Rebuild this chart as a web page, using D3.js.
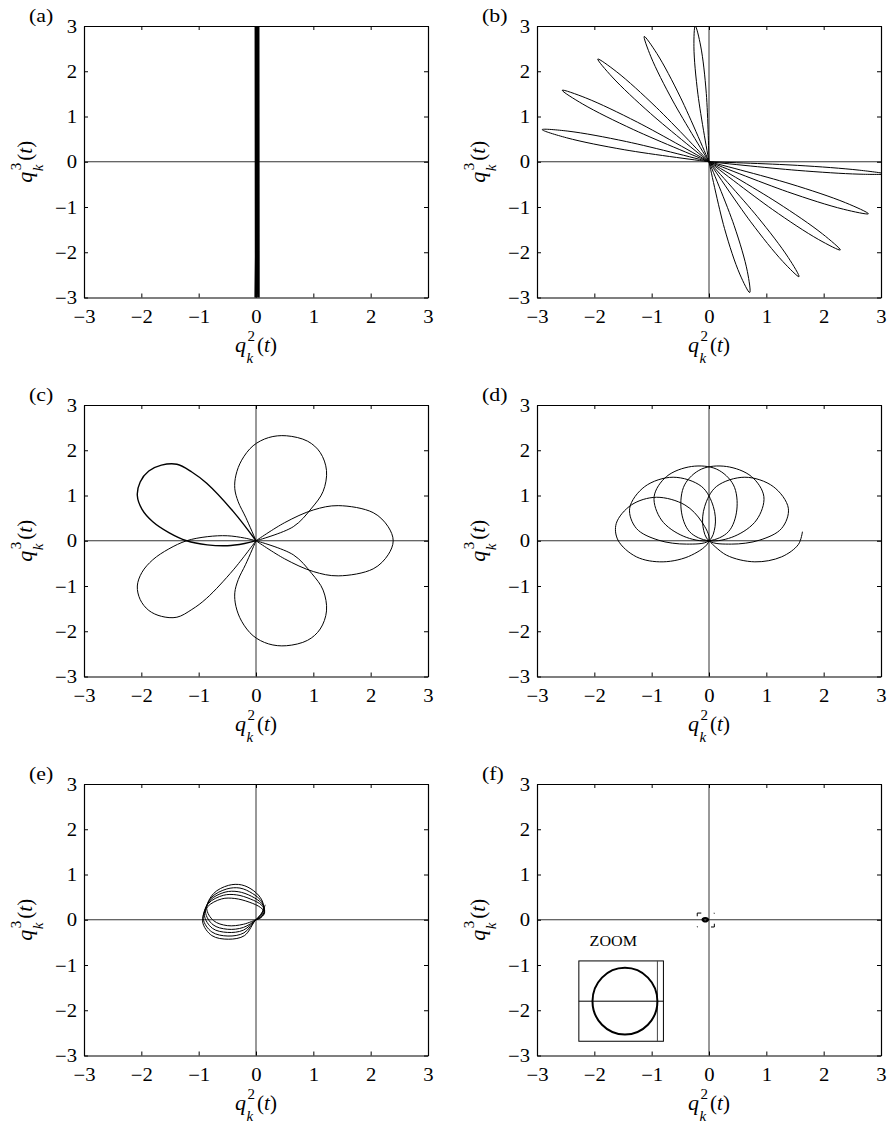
<!DOCTYPE html>
<html>
<head>
<meta charset="utf-8">
<script src="https://cdn.jsdelivr.net/npm/d3@7"></script>
<style>
  body { margin: 0; background: #fff; }
  text { font-family: "Liberation Serif", "Times New Roman", Times, serif; fill: #000; }
</style>
</head>
<body>
<svg id="fig" width="887" height="1128"></svg>
<script>
// ---------- data ----------
const tickValues = [-3, -2, -1, 0, 1, 2, 3];
const panelLetters = ["(a)", "(b)", "(c)", "(d)", "(e)", "(f)"];
const xLabelSup = "2";
const yLabelSup = "3";

// (a) near-vertical oscillation along the q3 axis
const trajA = [
  [-0.02, -3.3], [0.03, 3.3], [0.05, -3.3], [-0.015, 3.3], [-0.01, -3.3], [0.045, 3.3],
  [0.04, -3.3], [-0.005, 3.3], [0.0, -3.3], [0.05, 3.3], [0.055, -3.3], [0.01, 3.3],
  [0.015, -3.3], [0.035, 3.3]
];

// (b) thin petals through the origin (origin, upper side, tip, lower side, origin)
const petalsB = [
  [[0,0],[-1.441,0.446],[-2.462,0.677],[-2.91,0.71],[-2.485,0.530],[-1.469,0.264],[0,0]],
  [[0,0],[-1.248,0.874],[-2.150,1.411],[-2.56,1.58],[-2.202,1.275],[-1.312,0.707],[0,0]],
  [[0,0],[-0.920,1.203],[-1.608,1.985],[-1.94,2.27],[-1.689,1.874],[-1.020,1.067],[0,0]],
  [[0,0],[-0.500,1.428],[-0.908,2.389],[-1.13,2.77],[-1.013,2.320],[-0.630,1.342],[0,0]],
  [[0,0],[-0.047,1.509],[-0.145,2.557],[-0.24,3.0],[-0.263,2.542],[-0.193,1.491],[0,0]],
  [[0,0],[1.537,-0.190],[2.616,-0.274],[3.08,-0.27],[2.620,-0.186],[1.543,-0.080],[0,0]],
  [[0,0],[1.367,-0.663],[2.344,-1.049],[2.78,-1.15],[2.382,-0.906],[1.413,-0.487],[0,0]],
  [[0,0],[1.104,-1.052],[1.913,-1.720],[2.29,-1.95],[1.980,-1.595],[1.186,-0.898],[0,0]],
  [[0,0],[0.727,-1.327],[1.288,-2.205],[1.57,-2.54],[1.381,-2.113],[0.843,-1.213],[0,0]],
  [[0,0],[0.271,-1.478],[0.537,-2.483],[0.71,-2.89],[0.670,-2.430],[0.439,-1.412],[0,0]]
];

// (c) five-petal flower
const petalsC = [
  [[0,0],[0.50,0.40],[0.999,0.680],[1.434,0.776],[2.044,0.621],[2.305,0.310],[2.393,0],
   [2.305,-0.310],[2.044,-0.621],[1.434,-0.776],[0.999,-0.680],[0.50,-0.40],[0,0]],
  [[0,0],[-0.18,0.52],[-0.31,0.86],[-0.37,1.15],[-0.35,1.45],[-0.25,1.78],[-0.05,2.10],[0.22,2.28],
   [0.53,2.32],[0.90,2.20],[1.12,1.95],[1.23,1.55],[1.17,1.09],[0.97,0.72],[0.65,0.31],[0,0]],
  [[0,0],[-0.395,0.643],[-0.86,1.27],[-1.12,1.52],[-1.38,1.69],[-1.65,1.67],[-1.87,1.54],[-2.02,1.30],
   [-2.07,1.00],[-1.99,0.70],[-1.80,0.42],[-1.52,0.18],[-1.21,0.0],[-0.85,-0.09],[-0.50,-0.11],[-0.20,-0.06],[0,0]],
  [[0,0],[-0.20,0.06],[-0.50,0.11],[-0.85,0.09],[-1.21,0.0],[-1.52,-0.18],[-1.80,-0.42],[-1.99,-0.70],
   [-2.07,-1.00],[-2.02,-1.30],[-1.87,-1.54],[-1.65,-1.67],[-1.38,-1.69],[-1.12,-1.52],[-0.86,-1.27],[-0.395,-0.643],[0,0]],
  [[0,0],[0.65,-0.31],[0.97,-0.72],[1.17,-1.09],[1.23,-1.55],[1.12,-1.95],[0.90,-2.20],[0.53,-2.32],
   [0.22,-2.28],[-0.05,-2.10],[-0.25,-1.78],[-0.35,-1.45],[-0.37,-1.15],[-0.31,-0.86],[-0.18,-0.52],[0,0]]
];
const retracedPetalC = 2;

// (d) closed loops through the origin, then the final open arc
const loopsD = [
  [[0,0],[-0.128,0.421],[-0.420,0.791],[-0.917,0.961],[-1.354,0.791],[-1.617,0.384],[-1.588,0.015],[-1.267,-0.355],[-0.800,-0.466],[-0.304,-0.318]],
  [[0,0],[0.105,0.310],[0.076,0.754],[-0.128,1.197],[-0.625,1.404],[-1.121,1.197],[-1.384,0.717],[-1.267,0.273],[-0.887,0.015],[-0.391,-0.074]],
  [[0,0],[0.339,0.200],[0.485,0.680],[0.426,1.234],[0.134,1.582],[-0.304,1.641],[-0.741,1.419],[-0.957,0.976],[-0.829,0.458],[-0.450,0.103]],
  [[0,0],[0.450,0.103],[0.829,0.458],[0.957,0.976],[0.741,1.419],[0.304,1.641],[-0.134,1.582],[-0.426,1.234],[-0.485,0.680],[-0.339,0.200]],
  [[0,0],[0.391,-0.074],[0.887,0.015],[1.267,0.273],[1.384,0.717],[1.121,1.197],[0.625,1.404],[0.128,1.197],[-0.076,0.754],[-0.105,0.310]]
];
const tailD = [[0,0],[0.304,-0.318],[0.800,-0.466],[1.267,-0.355],[1.56,-0.08],[1.63,0.2]];

// (e) slowly precessing loops
const spiralE = [
  [0,0],[-0.22,-0.10],[-0.50,-0.13],[-0.74,-0.02],[-0.86,0.25],[-0.74,0.58],[-0.48,0.76],[-0.25,0.77],[-0.04,0.64],[0.10,0.44],[0.13,0.24],[0.06,0.08],
  [0,0],[-0.22,-0.17],[-0.50,-0.21],[-0.75,-0.11],[-0.88,0.17],[-0.77,0.50],[-0.51,0.68],[-0.28,0.70],[-0.06,0.58],[0.10,0.40],[0.14,0.22],[0.07,0.07],
  [0,0],[-0.22,-0.23],[-0.50,-0.28],[-0.76,-0.19],[-0.90,0.10],[-0.80,0.43],[-0.54,0.61],[-0.31,0.62],[-0.08,0.52],[0.10,0.36],[0.15,0.20],[0.08,0.06],
  [0,0],[-0.21,-0.29],[-0.49,-0.36],[-0.77,-0.27],[-0.92,0.02],[-0.83,0.36],[-0.57,0.54],[-0.34,0.55],[-0.10,0.46],[0.10,0.32],[0.15,0.18],[0.08,0.05],
  [0,0],[-0.20,-0.35],[-0.48,-0.43],[-0.77,-0.35],[-0.93,-0.05],[-0.85,0.28],[-0.60,0.46],[-0.37,0.47],[-0.12,0.39],[0.08,0.27],[0.15,0.16],[0.09,0.05],
  [0,0],[0.10,0.14],[0.16,0.33]
];

// (f) tiny residual loop, its zoom window and the magnified inset
const loopF = [[-0.017,0],[-0.041,0.03],[-0.089,0.03],[-0.113,0],[-0.089,-0.03],[-0.041,-0.03]];
const zoomWindowF = [[-0.205, 0.148], [0.093, -0.16]];
const insetBoxF = [[-2.27, -0.91], [-0.795, -2.685]];
const insetAxesF = [-0.90, -1.80];
const insetCircleF = [-1.466, -1.80, 0.566, 0.738];
const zoomTextF = [-1.67, -0.58];

// ---------- layout ----------
const svg = d3.select("#fig");
const colLeft = [84, 537];
const rowTop = [26, 405, 784];
const PW = 344, PH = 271.5;
const S = 1.15;               // horizontal glyph stretch of the figure text

const catmull = d3.curveCatmullRom.alpha(0.5);
const catmullClosed = d3.curveCatmullRomClosed.alpha(0.5);
const tickFmt = d3.format("d");

function axisLabel(parent, sup, transform) {
  const outer = parent.append("g").attr("transform", transform);
  const t = outer.append("g");
  const q = t.append("text").attr("font-style", "italic").attr("font-size", 22).text("q");
  const qw = q.node().getComputedTextLength();
  const k = t.append("text").attr("x", qw + 0.5).attr("y", 11).attr("font-style", "italic").attr("font-size", 15).text("k");
  const s = t.append("text").attr("x", qw + 1.5).attr("y", -11).attr("font-size", 15).text(sup);
  const w2 = Math.max(qw + 0.5 + k.node().getComputedTextLength(), qw + 1.5 + s.node().getComputedTextLength());
  const p = t.append("text").attr("x", w2 + 2).attr("font-size", 21);
  p.append("tspan").text("(");
  p.append("tspan").attr("font-style", "italic").text("t");
  p.append("tspan").text(")");
  const total = w2 + 2 + p.node().getComputedTextLength();
  t.attr("transform", `translate(${-total / 2},0)`);
}

function makePanel(i) {
  const col = i % 2, row = Math.floor(i / 2);
  const L = colLeft[col], T = rowTop[row];
  const x = d3.scaleLinear().domain([-3, 3]).range([L, L + PW]);
  const y = d3.scaleLinear().domain([-3, 3]).range([T + PH, T]);
  const g = svg.append("g");

  g.append("clipPath").attr("id", "clip" + i)
    .append("rect").attr("x", L).attr("y", T).attr("width", PW).attr("height", PH);

  // zero lines
  g.append("line").attr("x1", x(-3)).attr("x2", x(3)).attr("y1", y(0)).attr("y2", y(0))
    .attr("stroke", "#333").attr("stroke-width", 1);
  g.append("line").attr("x1", x(0)).attr("x2", x(0)).attr("y1", y(-3)).attr("y2", y(3))
    .attr("stroke", "#333").attr("stroke-width", 1);

  const plot = g.append("g").attr("clip-path", `url(#clip${i})`);
  const line = d3.line().x(d => x(d[0])).y(d => y(d[1]));

  return { g, plot, x, y, line, L, T };
}

function drawFrame(p, i) {
  const { g, x, y, L, T } = p;
  const style = sel => {
    sel.selectAll(".domain").attr("stroke", "#000").attr("stroke-width", 1.2);
    sel.selectAll(".tick line").attr("stroke", "#000").attr("stroke-width", 1);
    sel.attr("font-family", null).attr("font-size", null);
  };
  const bottom = g.append("g").attr("transform", `translate(0,${T + PH})`)
    .call(d3.axisBottom(x).tickValues(tickValues).tickFormat(tickFmt).tickSizeInner(-4).tickSizeOuter(0));
  bottom.selectAll(".tick text").attr("y", 25.5).attr("dy", 0).attr("font-size", 18)
    .attr("transform", `scale(${S},1)`);
  style(bottom);

  const left = g.append("g").attr("transform", `translate(${L},0)`)
    .call(d3.axisLeft(y).tickValues(tickValues).tickFormat(tickFmt).tickSizeInner(-4).tickSizeOuter(0));
  left.selectAll(".tick text").attr("x", -7 / S).attr("dy", "0.34em").attr("font-size", 18)
    .attr("transform", `scale(${S},1)`);
  style(left);

  const top = g.append("g").attr("transform", `translate(0,${T})`)
    .call(d3.axisTop(x).tickValues(tickValues).tickSizeInner(-4).tickSizeOuter(0).tickFormat(""));
  style(top);
  const right = g.append("g").attr("transform", `translate(${L + PW},0)`)
    .call(d3.axisRight(y).tickValues(tickValues).tickSizeInner(-4).tickSizeOuter(0).tickFormat(""));
  style(right);

  axisLabel(g, xLabelSup, `translate(${x(0)},${T + PH + 54})`);
  axisLabel(g, yLabelSup, `translate(${L - 52},${y(0)}) rotate(-90)`);

  g.append("text").attr("transform", `translate(${L - 55},${T - 4.5}) scale(${S},1)`)
    .attr("font-size", 19).text(panelLetters[i]);
}

const panels = d3.range(6).map(makePanel);
const ink = sel => sel.attr("fill", "none").attr("stroke", "#000").attr("stroke-width", 1);

// (a)
{
  const p = panels[0];
  p.plot.append("path").attr("d", p.line.curve(d3.curveLinear)(trajA)).call(ink).attr("stroke-width", 1.2);
}
// (b)
{
  const p = panels[1];
  p.line.curve(catmull);
  p.plot.selectAll("path.petal").data(petalsB).join("path").attr("class", "petal")
    .attr("d", d => p.line(d)).call(ink);
}
// (c)
{
  const p = panels[2];
  p.line.curve(catmull);
  p.plot.selectAll("path.petal").data(petalsC).join("path").attr("class", "petal")
    .attr("d", d => p.line(d)).call(ink)
    .attr("stroke-width", (d, j) => j === retracedPetalC ? 1.4 : 1);
}
// (d)
{
  const p = panels[3];
  p.line.curve(catmullClosed);
  p.plot.selectAll("path.loop").data(loopsD).join("path").attr("class", "loop")
    .attr("d", d => p.line(d)).call(ink);
  p.line.curve(catmull);
  p.plot.append("path").attr("d", p.line(tailD)).call(ink);
}
// (e)
{
  const p = panels[4];
  p.line.curve(catmull);
  p.plot.append("path").attr("d", p.line(spiralE)).call(ink);
}
// (f)
{
  const p = panels[5];
  const { x, y } = p;
  p.line.curve(catmullClosed);
  p.plot.append("path").attr("d", p.line(loopF)).call(ink).attr("stroke-width", 2.2);

  const [[wx0, wy0], [wx1, wy1]] = zoomWindowF;
  p.plot.append("path")
    .attr("d", `M${x(wx0)},${y(wy1)}L${x(wx0)},${y(wy0)}L${x(wx1)},${y(wy0)}L${x(wx1)},${y(wy1)}Z`)
    .call(ink).attr("stroke-dasharray", "0.5 10.2 7.3 12.5 1 10.2 6.6 13.2 0.5 0");

  const [[bx0, by0], [bx1, by1]] = insetBoxF;
  p.plot.append("rect").attr("x", x(bx0)).attr("y", y(by0))
    .attr("width", x(bx1) - x(bx0)).attr("height", y(by1) - y(by0))
    .attr("fill", "#fff").call(ink);
  p.plot.append("line").attr("x1", x(bx0)).attr("x2", x(bx1)).attr("y1", y(insetAxesF[1])).attr("y2", y(insetAxesF[1]))
    .attr("stroke", "#000").attr("stroke-width", 1);
  p.plot.append("line").attr("x1", x(insetAxesF[0])).attr("x2", x(insetAxesF[0])).attr("y1", y(by0)).attr("y2", y(by1))
    .attr("stroke", "#444").attr("stroke-width", 1);
  const [cx, cy, rx, ry] = insetCircleF;
  p.plot.append("ellipse").attr("cx", x(cx)).attr("cy", y(cy))
    .attr("rx", x(cx + rx) - x(cx)).attr("ry", y(cy - ry) - y(cy))
    .call(ink).attr("stroke-width", 2);
  p.plot.append("text").attr("transform", `translate(${x(zoomTextF[0])},${y(zoomTextF[1])}) scale(${S},1)`)
    .attr("text-anchor", "middle").attr("font-size", 14).text("ZOOM");
}

panels.forEach((p, i) => drawFrame(p, i));
</script>
</body>
</html>
